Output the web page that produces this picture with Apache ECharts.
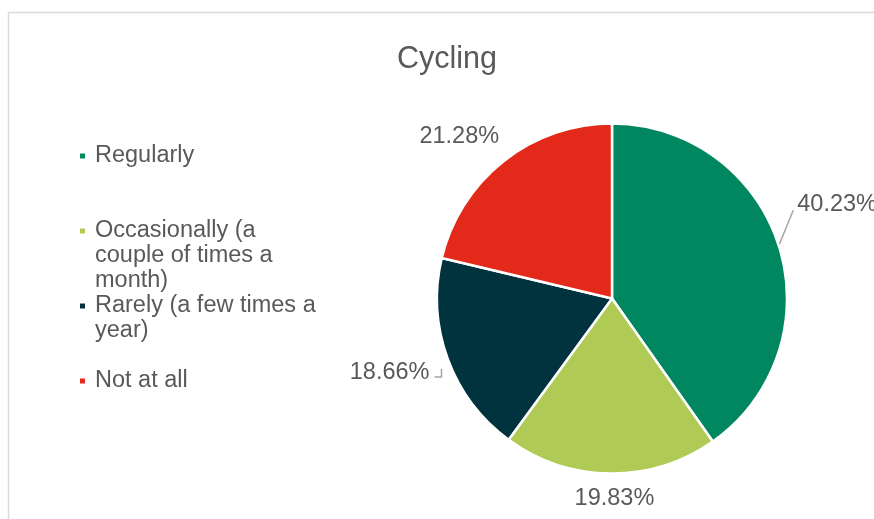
<!DOCTYPE html>
<html>
<head>
<meta charset="utf-8">
<script src="https://cdn.jsdelivr.net/npm/echarts@6/dist/echarts.min.js"></script>
<style>
    html, body { margin: 0; padding: 0; background: #fff; }
    #chart { width: 874px; height: 519px; }
</style>
</head>
<body>
<div id="chart"></div>
<script>
// 数据
var categories = ['Regularly', 'Occasionally (a couple of times a month)', 'Rarely (a few times a year)', 'Not at all'];
var legendLabels = ['Regularly', 'Occasionally (a\ncouple of times a\nmonth)', 'Rarely (a few times a\nyear)', 'Not at all'];
var shares = [40.23, 19.83, 18.66, 21.28];
var colors = ['#00875F', '#B0CB55', '#00333D', '#E3291A'];

// 图例每项的位置（第一行图标中心）
var legendIconY = [156, 231, 306, 381];
var lineH = 25;
var legends = categories.map(function (name, i) {
    var lines = legendLabels[i].split('\n').length;
    var blockH = lineH * (2 * lines - 1);
    // 前面补空行，让图标对齐第一行
    var pad = new Array(lines).join('\n');
    return {
        orient: 'vertical',
        left: 73,
        top: legendIconY[i] - blockH / 2 - 5,
        icon: 'rect',
        itemWidth: 7,
        itemHeight: 7,
        selectedMode: false,
        data: [name],
        formatter: function () { return pad + legendLabels[i]; },
        textStyle: {
            fontFamily: 'Liberation Sans',
            fontSize: 23.5,
            lineHeight: lineH,
            color: '#595959',
            padding: [0, 0, 0, 4]
        }
    };
});

// 标签微调
var labelNudge = [[0, -37], [51, 13], [0, 9], [10, -15]];

var chart = echarts.init(document.getElementById('chart'));
var option = {
    animation: false,
    title: {
        text: 'Cycling',
        left: 392,
        top: 39,
        textStyle: {
            fontFamily: 'Liberation Sans',
            fontSize: 30.5,
            fontWeight: 'normal',
            color: '#595959'
        }
    },
    graphic: [{
        type: 'rect',
        shape: { x: 8.5, y: 12.5, width: 900, height: 600 },
        style: { fill: null, stroke: '#D9D9D9', lineWidth: 1.5 },
        silent: true
    }],
    color: colors,
    legend: legends,
    series: [{
        type: 'pie',
        center: [612, 298.5],
        radius: 175,
        startAngle: 90,
        clockwise: true,
        itemStyle: { borderColor: '#fff', borderWidth: 2.5 },
        label: {
            show: true,
            position: 'outside',
            overflow: 'none',
            formatter: function (p) { return shares[p.dataIndex].toFixed(2) + '%'; },
            fontFamily: 'Liberation Sans',
            fontSize: 23.5,
            color: '#595959',
            distanceToLabelLine: 3
        },
        labelLine: {
            show: true,
            length: 12,
            length2: 4,
            lineStyle: { color: '#A6A6A6', width: 1.5 }
        },
        labelLayout: function (p) {
            var i = p.dataIndex;
            var d = labelNudge[i];
            var r = p.labelRect;
            var x = r.x + d[0], y = r.y + d[1];
            var start = p.labelLinePoints ? p.labelLinePoints[0] : [0, 0];
            var pts;
            if (i === 0) {
                var end = [x - 4, y + r.height * 0.72];
                pts = [start, end, end];
            } else if (i === 2) {
                var cy = y + r.height / 2 + 5;
                pts = [[x + r.width + 12, cy - 8], [x + r.width + 12, cy], [x + r.width + 5, cy]];
            } else {
                pts = [start, start, start];
            }
            return { dx: d[0], dy: d[1], labelLinePoints: pts };
        },
        data: categories.map(function (name, i) {
            return { name: name, value: shares[i] };
        })
    }]
};
chart.setOption(option);
</script>
</body>
</html>
